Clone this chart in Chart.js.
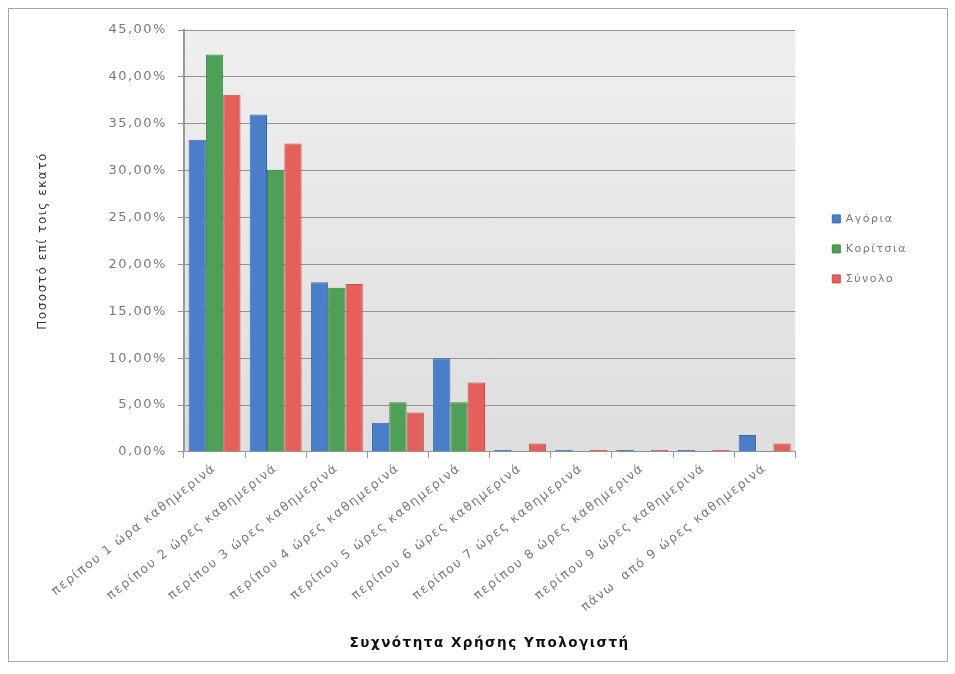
<!DOCTYPE html>
<html>
<head>
<meta charset="utf-8">
<script src="https://cdn.jsdelivr.net/npm/chart.js@4.4.1/dist/chart.umd.min.js"></script>
<style>
  html, body { margin: 0; padding: 0; background: #fff; }
  #wrap { position: relative; width: 955px; height: 674px; }
  #frame { position: absolute; left: 8px; top: 8px; width: 938px; height: 652px; border: 1px solid #a8a8a8; }
  canvas { position: absolute; left: 0; top: 0; }
</style>
</head>
<body>
<div id="wrap">
  <div id="frame"></div>
  <canvas id="usageChart" width="955" height="674"></canvas>
</div>
<script>
// κατηγορίες (άξονας x)
const categories = [
    'περίπου 1 ώρα καθημερινά',
    'περίπου 2 ώρες καθημερινά',
    'περίπου 3 ώρες καθημερινά',
    'περίπου 4 ώρες καθημερινά',
    'περίπου 5 ώρες καθημερινά',
    'περίπου 6 ώρες καθημερινά',
    'περίπου 7 ώρες καθημερινά',
    'περίπου 8 ώρες καθημερινά',
    'περίπου 9 ώρες καθημερινά',
    'πάνω  από 9 ώρες καθημερινά'
];

// ποσοστά ανά ομάδα (%)
const boys  = [33.3, 36.0, 18.1, 3.1, 10.0, 0.2, 0.2, 0.2, 0.2, 1.8];
const girls = [42.4, 30.1, 17.5, 5.3, 5.3, 0.1, 0.1, 0.1, 0.1, 0.1];
const total = [38.1, 32.9, 17.9, 4.2, 7.4, 0.9, 0.2, 0.2, 0.2, 0.9];

const seriesNames = ['Αγόρια', 'Κορίτσια', 'Σύνολο'];
const yTicks = [0, 5, 10, 15, 20, 25, 30, 35, 40, 45];

// αραιό γράμμα όπως στο πρωτότυπο (μετά το resize του canvas)
const spacing = {
    id: 'spacing',
    beforeUpdate(chart) { chart.ctx.letterSpacing = '1.5px'; },
    beforeDraw(chart) { chart.ctx.letterSpacing = '1.5px'; }
};

// το υπόμνημα λίγο πιο δεξιά από το γράφημα
const legendShift = {
    id: 'legendShift',
    afterLayout(chart) {
        if (!chart.legend) return;
        chart.legend.left += 18;
        chart.legend.right += 18;
    }
};

// γκρι φόντο στην περιοχή του γραφήματος
const plotBg = {
    id: 'plotBg',
    beforeDraw(chart) {
        const { ctx, chartArea: a } = chart;
        const g = ctx.createLinearGradient(0, a.top, 0, a.bottom);
        g.addColorStop(0, '#efefef');
        g.addColorStop(1, '#dedede');
        ctx.save();
        ctx.fillStyle = g;
        ctx.fillRect(a.left, a.top, a.right - a.left, a.bottom - a.top);
        ctx.restore();
    }
};

const greyText = '#7a7a7a';

new Chart(document.getElementById('usageChart'), {
    type: 'bar',
    data: {
        labels: categories,
        datasets: [
            { label: seriesNames[0], data: boys,  backgroundColor: '#4a7ec8', borderColor: '#3a68a8', borderWidth: 1 },
            { label: seriesNames[1], data: girls, backgroundColor: '#4e9f57', borderColor: '#3f8547', borderWidth: 1 },
            { label: seriesNames[2], data: total, backgroundColor: '#e5605b', borderColor: '#c54e4a', borderWidth: 1 }
        ]
    },
    options: {
        responsive: false,
        animation: false,
        layout: { padding: { left: 36, right: 56, top: 30, bottom: 22 } },
        datasets: { bar: { barPercentage: 1.0, categoryPercentage: 0.85 } },
        plugins: {
            legend: {
                position: 'right',
                align: 'start',
                title: { display: true, text: ' ', padding: { top: 150, bottom: 0 } },
                labels: {
                    boxWidth: 8, boxHeight: 8, padding: 19,
                    color: greyText,
                    font: { family: 'DejaVu Sans', size: 11 }
                }
            },
            tooltip: { enabled: false }
        },
        scales: {
            x: {
                grid: { display: true, drawOnChartArea: false, color: '#9a9a9a', tickLength: 6 },
                border: { color: '#9a9a9a' },
                ticks: {
                    color: greyText, autoSkip: false, maxRotation: 38, minRotation: 38,
                    font: { family: 'DejaVu Sans', size: 12.5 }
                },
                title: {
                    display: true, text: 'Συχνότητα Χρήσης Υπολογιστή', color: '#111',
                    font: { family: 'DejaVu Sans', size: 13.5, weight: 'bold' },
                    padding: { top: 18, bottom: 0 }
                }
            },
            y: {
                min: 0, max: 45,
                afterBuildTicks(axis) { axis.ticks = yTicks.map(v => ({ value: v })); },
                grid: { color: '#939393', tickLength: 6 },
                border: { color: '#9a9a9a', width: 2 },
                ticks: {
                    color: greyText, padding: 11,
                    font: { family: 'DejaVu Sans', size: 13 },
                    callback: v => v.toFixed(2).replace('.', ',') + '%'
                },
                title: {
                    display: true, text: 'Ποσοστό επί τοις εκατό', color: '#333',
                    font: { family: 'DejaVu Sans', size: 12 },
                    padding: { top: 0, bottom: 47 }
                }
            }
        }
    },
    plugins: [spacing, legendShift, plotBg]
});
</script>
</body>
</html>
